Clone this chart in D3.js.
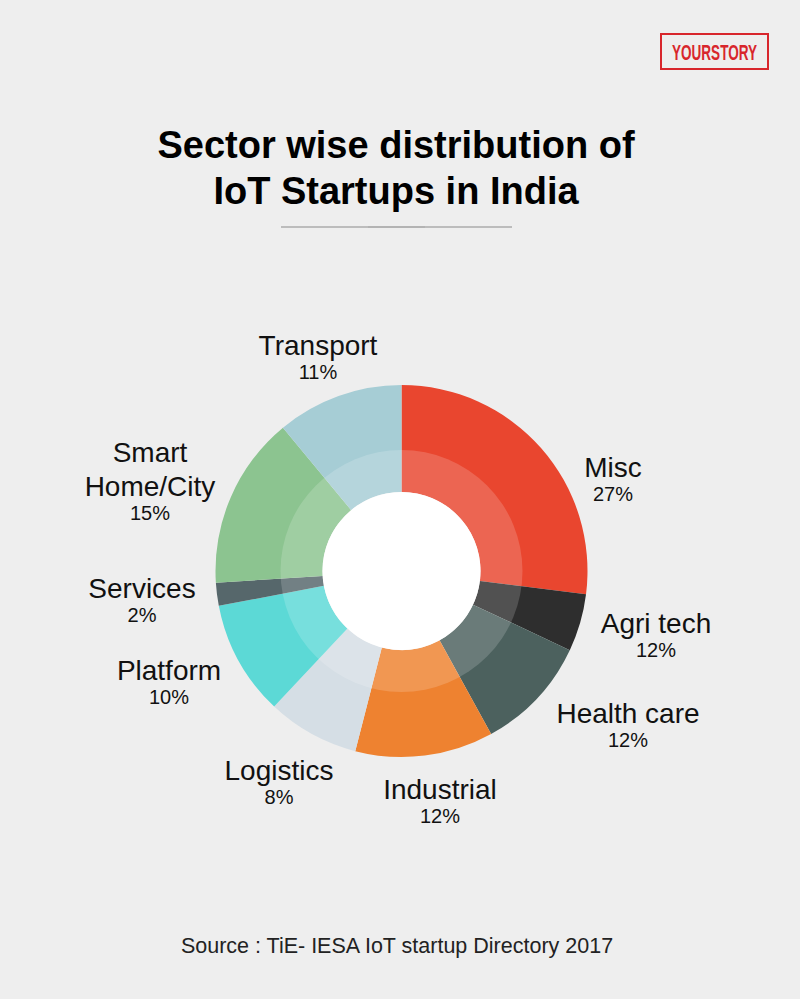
<!DOCTYPE html>
<html><head><meta charset="utf-8">
<script src="https://cdn.jsdelivr.net/npm/d3@7"></script>
<style>html,body{margin:0;padding:0;background:#eeeeee;}svg{display:block;}</style>
</head><body>
<script>
const categories = ["Misc","Agri tech","Health care","Industrial","Logistics","Platform","Services","Smart Home/City","Transport"];
const values = [27,5,10,12,8,10,2,15,11];
const percentLabels = ["27%","12%","12%","12%","8%","10%","2%","15%","11%"];
const colors = ["#e9462f","#2e2e2e","#4c615e","#ee8230","#d5dee5","#5cd9d6","#56676b","#8cc490","#a6cdd5"];

const W=800,H=999, cx=401.5, cy=571, R=186, rMid=121, rIn=79;
const svg=d3.select("body").append("svg").attr("width",W).attr("height",H);
svg.append("rect").attr("width",W).attr("height",H).attr("fill","#eeeeee");

// logo
const logo=svg.append("g");
logo.append("rect").attr("x",661).attr("y",34).attr("width",107).attr("height",35)
  .attr("fill","none").attr("stroke","#d8262c").attr("stroke-width",2);
const lt=logo.append("text").attr("x",0).attr("y",0).attr("text-anchor","middle")
  .attr("font-family","Liberation Sans Narrow, Liberation Sans, Arial, sans-serif").attr("font-weight","bold")
  .attr("font-size",22).attr("fill","#d8262c").text("YOURSTORY");
const lw=lt.node().getComputedTextLength();
lt.attr("transform",`translate(714.5,60) scale(${Math.min(1,85/lw)},1)`);

// title
const title=svg.append("g").attr("font-family","Liberation Sans, Arial, Helvetica, sans-serif").attr("font-weight","bold")
  .attr("font-size",38).attr("fill","#000").attr("text-anchor","middle");
title.append("text").attr("x",396).attr("y",158).text("Sector wise distribution of");
title.append("text").attr("x",396).attr("y",204).text("IoT Startups in India");
svg.append("line").attr("x1",281).attr("x2",512).attr("y1",227).attr("y2",227).attr("stroke","#8a8a8a").attr("stroke-width",1);
svg.append("line").attr("x1",368).attr("x2",425).attr("y1",227).attr("y2",227).attr("stroke","#b0b0b0").attr("stroke-width",1.5);

// donut
const pie=d3.pie().sort(null).value(d=>d);
const arcs=pie(values);
const g=svg.append("g").attr("transform",`translate(${cx},${cy})`);
const arcOuter=d3.arc().innerRadius(rIn).outerRadius(R);
g.selectAll("path.s").data(arcs).join("path").attr("class","s").attr("d",arcOuter).attr("fill",(d,i)=>colors[i]);
g.append("circle").attr("r",rMid).attr("fill","#ffffff").attr("fill-opacity",0.17);
g.append("circle").attr("r",rIn).attr("fill","#ffffff");

// labels
const labelPos = [[613,477],[656,633],[628,723],[440,799],[279,780],[169,680],[142,598],[150,462],[318,355]];
const lab=svg.append("g").attr("font-family","Liberation Sans, Arial, Helvetica, sans-serif").attr("text-anchor","middle").attr("fill","#111");
categories.forEach((c,i)=>{
  const [x,y]=labelPos[i];
  let lines = c==="Smart Home/City" ? ["Smart","Home/City"] : [c];
  lines.forEach((l,j)=>{
    lab.append("text").attr("x",x).attr("y",y+j*34).attr("font-size",28).text(l);
  });
  lab.append("text").attr("x",x).attr("y",y+(lines.length-1)*34+24).attr("font-size",20).text(percentLabels[i]);
});

// source
svg.append("text").attr("x",397).attr("y",953).attr("text-anchor","middle")
  .attr("font-family","Liberation Sans, Arial, Helvetica, sans-serif").attr("font-size",21.5).attr("fill","#222")
  .text("Source : TiE- IESA IoT startup Directory 2017");
</script>
</body></html>
